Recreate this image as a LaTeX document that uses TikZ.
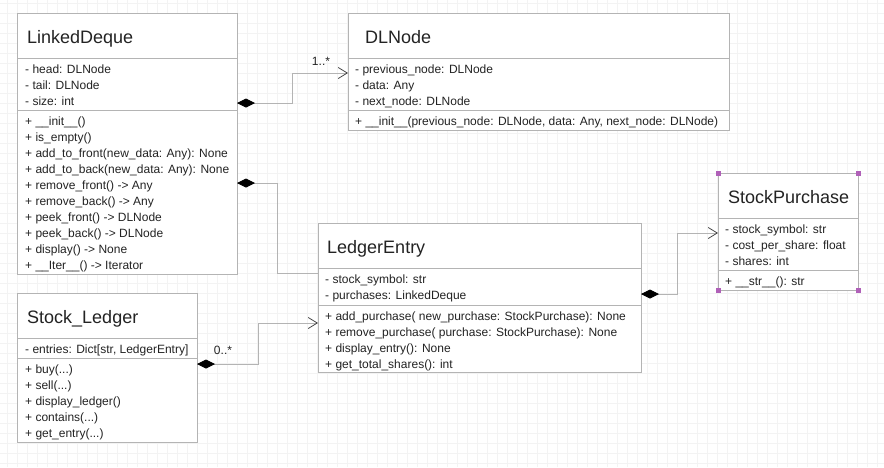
\documentclass[tikz,border=0pt]{standalone}
\usepackage{fontspec}
\setmainfont{Liberation Sans}
\usetikzlibrary{arrows.meta}
\definecolor{boxgray}{RGB}{180,180,180}
\definecolor{gridgray}{RGB}{243,243,243}
\definecolor{textgray}{RGB}{35,35,35}
\definecolor{arrowgray}{RGB}{70,70,70}
\definecolor{handlepurple}{RGB}{176,96,184}

\begin{document}
\begin{tikzpicture}[x=1pt, y=-1pt,
    classbox/.style={draw=boxgray, line width=0.8pt, fill=white, anchor=north west, inner sep=0pt, outer sep=0pt},
    classname/.style={anchor=base west, inner sep=0pt, text=textgray, font=\fontsize{18}{22}\selectfont},
    member/.style={anchor=base west, inner sep=0pt, text=textgray, font=\fontsize{12}{16}\selectfont},
    assoc/.style={draw=boxgray, line width=0.8pt},
    owns/.style={assoc, {Diamond[length=18pt, width=9pt, color=black]}-},
    ownsmany/.style={assoc, {Diamond[length=18pt, width=9pt, color=black]}-{Straight Barb[length=9pt, width=11pt, color=arrowgray]}},
    mult/.style={inner sep=0pt, text=textgray, font=\fontsize{12}{14}\selectfont},
    handle/.style={fill=handlepurple, minimum size=5pt, inner sep=0pt}]

    % Fix the page to the size of the reference
    \useasboundingbox (0,0) rectangle (884,467);

    % Light background grid
    \foreach \gx in {7,17,...,877} \draw[gridgray, line width=0.8pt] (\gx,0) -- (\gx,467);
    \foreach \gy in {3,13,...,463} \draw[gridgray, line width=0.8pt] (0,\gy) -- (884,\gy);

    % LinkedDeque class
    \node[classbox, minimum width=220pt, minimum height=45pt] (dequeHead) at (17,13) {};
    \node[classbox, minimum width=220pt, minimum height=52pt] (dequeAttrs) at (dequeHead.south west) {};
    \node[classbox, minimum width=220pt, minimum height=164pt] (dequeOps) at (dequeAttrs.south west) {};
    \node[classname] (dequeName) at (27,43.5) {LinkedDeque};
    \foreach \txt [count=\i] in {{- head: DLNode}, {- tail: DLNode}, {- size: int}}
        \node[member] (dequeA\i) at (25,{57+16*\i}) {\txt};
    \foreach \txt [count=\i] in {{+ \_\_init\_\_()}, {+ is\_empty()},
        {+ add\_to\_front(new\_data: Any): None}, {+ add\_to\_back(new\_data: Any): None},
        {+ remove\_front() -> Any}, {+ remove\_back() -> Any},
        {+ peek\_front() -> DLNode}, {+ peek\_back() -> DLNode},
        {+ display() -> None}, {+ \_\_Iter\_\_() -> Iterator}}
        \node[member] (dequeM\i) at (25,{109+16*\i}) {\txt};

    % DLNode class
    \node[classbox, minimum width=381pt, minimum height=45pt] (dlnodeHead) at (348,13) {};
    \node[classbox, minimum width=381pt, minimum height=52pt] (dlnodeAttrs) at (dlnodeHead.south west) {};
    \node[classbox, minimum width=381pt, minimum height=20pt] (dlnodeOps) at (dlnodeAttrs.south west) {};
    \node[classname] (dlnodeName) at (365,43.5) {DLNode};
    \foreach \txt [count=\i] in {{- previous\_node: DLNode}, {- data: Any}, {- next\_node: DLNode}}
        \node[member] (dlnodeA\i) at (355,{57+16*\i}) {\txt};
    \node[member] (dlnodeM1) at (355,125) {+ \_\_init\_\_(previous\_node: DLNode, data: Any, next\_node: DLNode)};

    % LedgerEntry class
    \node[classbox, minimum width=323pt, minimum height=45pt] (entryHead) at (318,223) {};
    \node[classbox, minimum width=323pt, minimum height=37pt] (entryAttrs) at (entryHead.south west) {};
    \node[classbox, minimum width=323pt, minimum height=67pt] (entryOps) at (entryAttrs.south west) {};
    \node[classname] (entryName) at (327,253.5) {LedgerEntry};
    \foreach \txt [count=\i] in {{- stock\_symbol: str}, {- purchases: LinkedDeque}}
        \node[member] (entryA\i) at (325,{267+16*\i}) {\txt};
    \foreach \txt [count=\i] in {{+ add\_purchase( new\_purchase: StockPurchase): None},
        {+ remove\_purchase( purchase: StockPurchase): None},
        {+ display\_entry(): None}, {+ get\_total\_shares(): int}}
        \node[member] (entryM\i) at (325,{304+16*\i}) {\txt};

    % StockPurchase class
    \node[classbox, minimum width=140pt, minimum height=45pt] (purchaseHead) at (718,173) {};
    \node[classbox, minimum width=140pt, minimum height=52pt] (purchaseAttrs) at (purchaseHead.south west) {};
    \node[classbox, minimum width=140pt, minimum height=20pt] (purchaseOps) at (purchaseAttrs.south west) {};
    \node[classname] (purchaseName) at (728,203.5) {StockPurchase};
    \foreach \txt [count=\i] in {{- stock\_symbol: str}, {- cost\_per\_share: float}, {- shares: int}}
        \node[member] (purchaseA\i) at (725,{217+16*\i}) {\txt};
    \node[member] (purchaseM1) at (725,285) {+ \_\_str\_\_(): str};

    % selection handles on StockPurchase
    \node[handle] (handleNW) at (purchaseHead.north west) {};
    \node[handle] (handleNE) at (purchaseHead.north east) {};
    \node[handle] (handleSW) at (purchaseOps.south west) {};
    \node[handle] (handleSE) at (purchaseOps.south east) {};

    % Stock_Ledger class
    \node[classbox, minimum width=180pt, minimum height=45pt] (ledgerHead) at (17,293) {};
    \node[classbox, minimum width=180pt, minimum height=20pt] (ledgerAttrs) at (ledgerHead.south west) {};
    \node[classbox, minimum width=180pt, minimum height=84pt] (ledgerOps) at (ledgerAttrs.south west) {};
    \node[classname] (ledgerName) at (27,323.5) {Stock\_Ledger};
    \node[member] (ledgerA1) at (25,353) {- entries: Dict[str, LedgerEntry]};
    \foreach \txt [count=\i] in {{+ buy(.{}.{}.)}, {+ sell(.{}.{}.)}, {+ display\_ledger()},
        {+ contains(.{}.{}.)}, {+ get\_entry(.{}.{}.)}}
        \node[member] (ledgerM\i) at (25,{357+16*\i}) {\txt};

    % Compositions between the classes
    \draw[ownsmany] ([yshift=-45pt]dequeAttrs.north east) -- ++(55,0) |- ([yshift=-15pt]dlnodeAttrs.north west);
    \node[mult] (dequeMult) at (321,61) {1..*};

    \draw[owns] ([yshift=-73pt]dequeOps.north east) -- ++(40,0) |- ([yshift=-5pt]entryAttrs.north west);

    \draw[ownsmany] ([yshift=-6pt]ledgerOps.north east) -- ++(61,0) |- ([yshift=-18pt]entryOps.north west);
    \node[mult] (ledgerMult) at (223,350) {0..*};

    \draw[ownsmany] ([yshift=-26pt]entryAttrs.north east) -- ++(36,0) |- ([yshift=-15pt]purchaseAttrs.north west);
\end{tikzpicture}
\end{document}
